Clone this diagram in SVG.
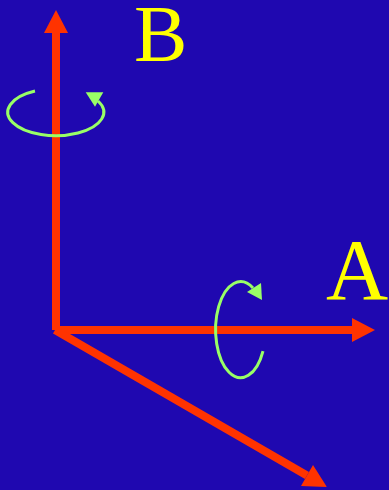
<svg xmlns="http://www.w3.org/2000/svg" width="389" height="490" viewBox="0 0 389 490">
  <style>
    .axis { stroke: #ff3300; stroke-width: 8; fill: none; marker-end: url(#head); }
    .rot { stroke: #99ff66; stroke-width: 3; fill: none; }
    .rothead { fill: #99ff66; }
    .lbl { font-family: "Liberation Serif", "Times New Roman", serif; fill: #ffff00; }
  </style>
  <defs>
    <marker id="head" markerUnits="userSpaceOnUse" markerWidth="23" markerHeight="24" refX="0" refY="12" orient="auto" overflow="visible">
      <path d="M0,0 L23,12 L0,24 Z" fill="#ff3300"/>
    </marker>
  </defs>
  <rect x="0" y="0" width="389" height="490" fill="#1f08b0"/>
  <g id="connectors">
    <line class="axis" x1="56" y1="330" x2="56" y2="33"/>
    <line class="axis" x1="55" y1="330" x2="352" y2="330"/>
    <line class="axis" x1="55" y1="330" x2="307" y2="475.5"/>
  </g>
  <g id="rotB">
    <path class="rot" d="M35,91 A48,23.5 0 1 0 98,101"/>
    <polygon class="rothead" points="85.7,92.3 103.3,92.3 95,106.7"/>
  </g>
  <g id="rotA">
    <path class="rot" d="M263,351 A25,48 0 1 1 253,288"/>
    <polygon class="rothead" points="247,292 261,283 262,300"/>
  </g>
  <g id="labelB">
    <text class="lbl" x="134" y="61" font-size="80">B</text>
  </g>
  <g id="labelA">
    <text class="lbl" x="326" y="299" font-size="86">A</text>
  </g>
</svg>
